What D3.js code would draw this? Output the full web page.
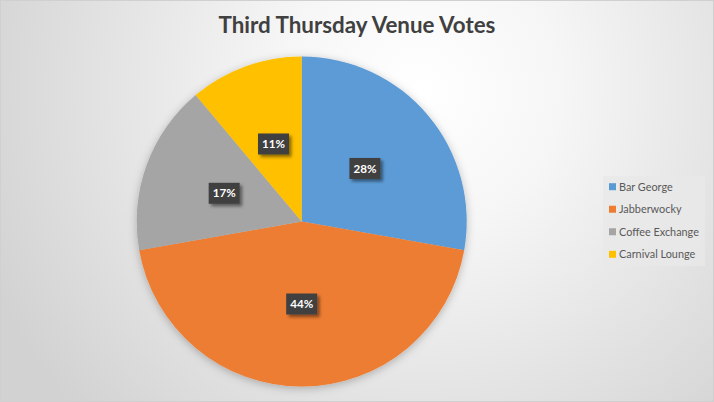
<!DOCTYPE html>
<html><head><meta charset="utf-8">
<script src="https://cdn.jsdelivr.net/npm/d3@7"></script>
<style>html,body{margin:0;padding:0;background:#fff;}svg{display:block;}</style>
</head><body>
<svg id="c" width="714" height="402"></svg>
<script>
const categories = ["Bar George", "Jabberwocky", "Coffee Exchange", "Carnival Lounge"];
const votes = [25, 40, 15, 10];
const colors = ["#5B9BD5", "#ED7D31", "#A5A5A5", "#FFC000"];
const title = "Third Thursday Venue Votes";

const W = 714, H = 402;
const svg = d3.select("#c");
const defs = svg.append("defs");
const rg = defs.append("radialGradient").attr("id","bg").attr("gradientUnits","userSpaceOnUse")
  .attr("cx", 420).attr("cy", 90).attr("r", 470);
rg.append("stop").attr("offset","0%").attr("stop-color","#ffffff");
rg.append("stop").attr("offset","30%").attr("stop-color","#f6f6f6");
rg.append("stop").attr("offset","100%").attr("stop-color","#d2d2d2");
const f1 = defs.append("filter").attr("id","pshadow").attr("x","-20%").attr("y","-20%").attr("width","140%").attr("height","140%");
f1.append("feDropShadow").attr("dx",0).attr("dy",2).attr("stdDeviation",4).attr("flood-color","#000").attr("flood-opacity",0.25);
const f2 = defs.append("filter").attr("id","lshadow").attr("x","-30%").attr("y","-30%").attr("width","170%").attr("height","170%");
f2.append("feDropShadow").attr("dx",2.5).attr("dy",2.5).attr("stdDeviation",1.5).attr("flood-color","#000").attr("flood-opacity",0.45);

svg.append("rect").attr("x",0).attr("y",0).attr("width",W).attr("height",H).attr("fill","url(#bg)");
svg.append("rect").attr("x",0.5).attr("y",0.5).attr("width",W-1).attr("height",H-1).attr("fill","none").attr("stroke","#d0d0d0");

function fitText(sel, target){
  const w = sel.node().getComputedTextLength();
  const fs = parseFloat(sel.attr("font-size"));
  sel.attr("font-size", fs*target/w);
}

const t = svg.append("text").attr("x", 357).attr("y", 33).attr("text-anchor","middle")
  .attr("font-family","Lato, 'Open Sans', sans-serif").attr("font-weight","bold").attr("font-size",21)
  .attr("fill","#404040").text(title);
fitText(t, 277);

const cx = 301.7, cy = 221.5, R = 165;
const pie = d3.pie().sort(null).value(d => d)(votes);
const arc = d3.arc().innerRadius(0).outerRadius(R);
const total = d3.sum(votes);
const g = svg.append("g").attr("transform",`translate(${cx},${cy})`);
const gp = g.append("g").attr("filter","url(#pshadow)");
gp.selectAll("path").data(pie).join("path").attr("d",arc).attr("fill",(d,i)=>colors[i]);

const labelArc = d3.arc().innerRadius(R*0.5).outerRadius(R*0.5);
const lg = g.selectAll("g.lbl").data(pie).join("g").attr("class","lbl")
  .attr("transform", d => { const c = labelArc.centroid(d); return `translate(${c[0]},${c[1]})`; });
lg.append("rect").attr("x",-15.5).attr("y",-10.5).attr("width",31).attr("height",21)
  .attr("fill","#404040").attr("filter","url(#lshadow)");
lg.append("text").attr("text-anchor","middle").attr("dy","0.36em")
  .attr("font-family","Lato, 'Open Sans', sans-serif").attr("font-weight","bold").attr("font-size",12)
  .attr("fill","#ffffff").text(d => Math.round(d.value/total*100) + "%")
  .each(function(){ fitText(d3.select(this), 23); });

// legend
const leg = svg.append("g");
leg.append("rect").attr("x",603).attr("y",176).attr("width",102).attr("height",90).attr("fill","#e9e9e9").attr("opacity",0.8);
const ly = d3.scalePoint().domain(categories).range([186.7, 254.3]);
const items = leg.selectAll("g.it").data(categories).join("g").attr("class","it")
  .attr("transform", d => `translate(0,${ly(d)})`);
items.append("rect").attr("x",609).attr("y",-3.5).attr("width",7).attr("height",7).attr("fill",(d,i)=>colors[i]);
const lt = items.append("text").attr("x",619).attr("dy","0.35em")
  .attr("font-family","Lato, 'Open Sans', sans-serif").attr("font-size",11.5).attr("fill","#595959").text(d=>d);
const ce = lt.filter(d => d === "Coffee Exchange");
const fsBase = 11.5 * 80 / ce.node().getComputedTextLength();
lt.attr("font-size", fsBase);
</script>
</body></html>
